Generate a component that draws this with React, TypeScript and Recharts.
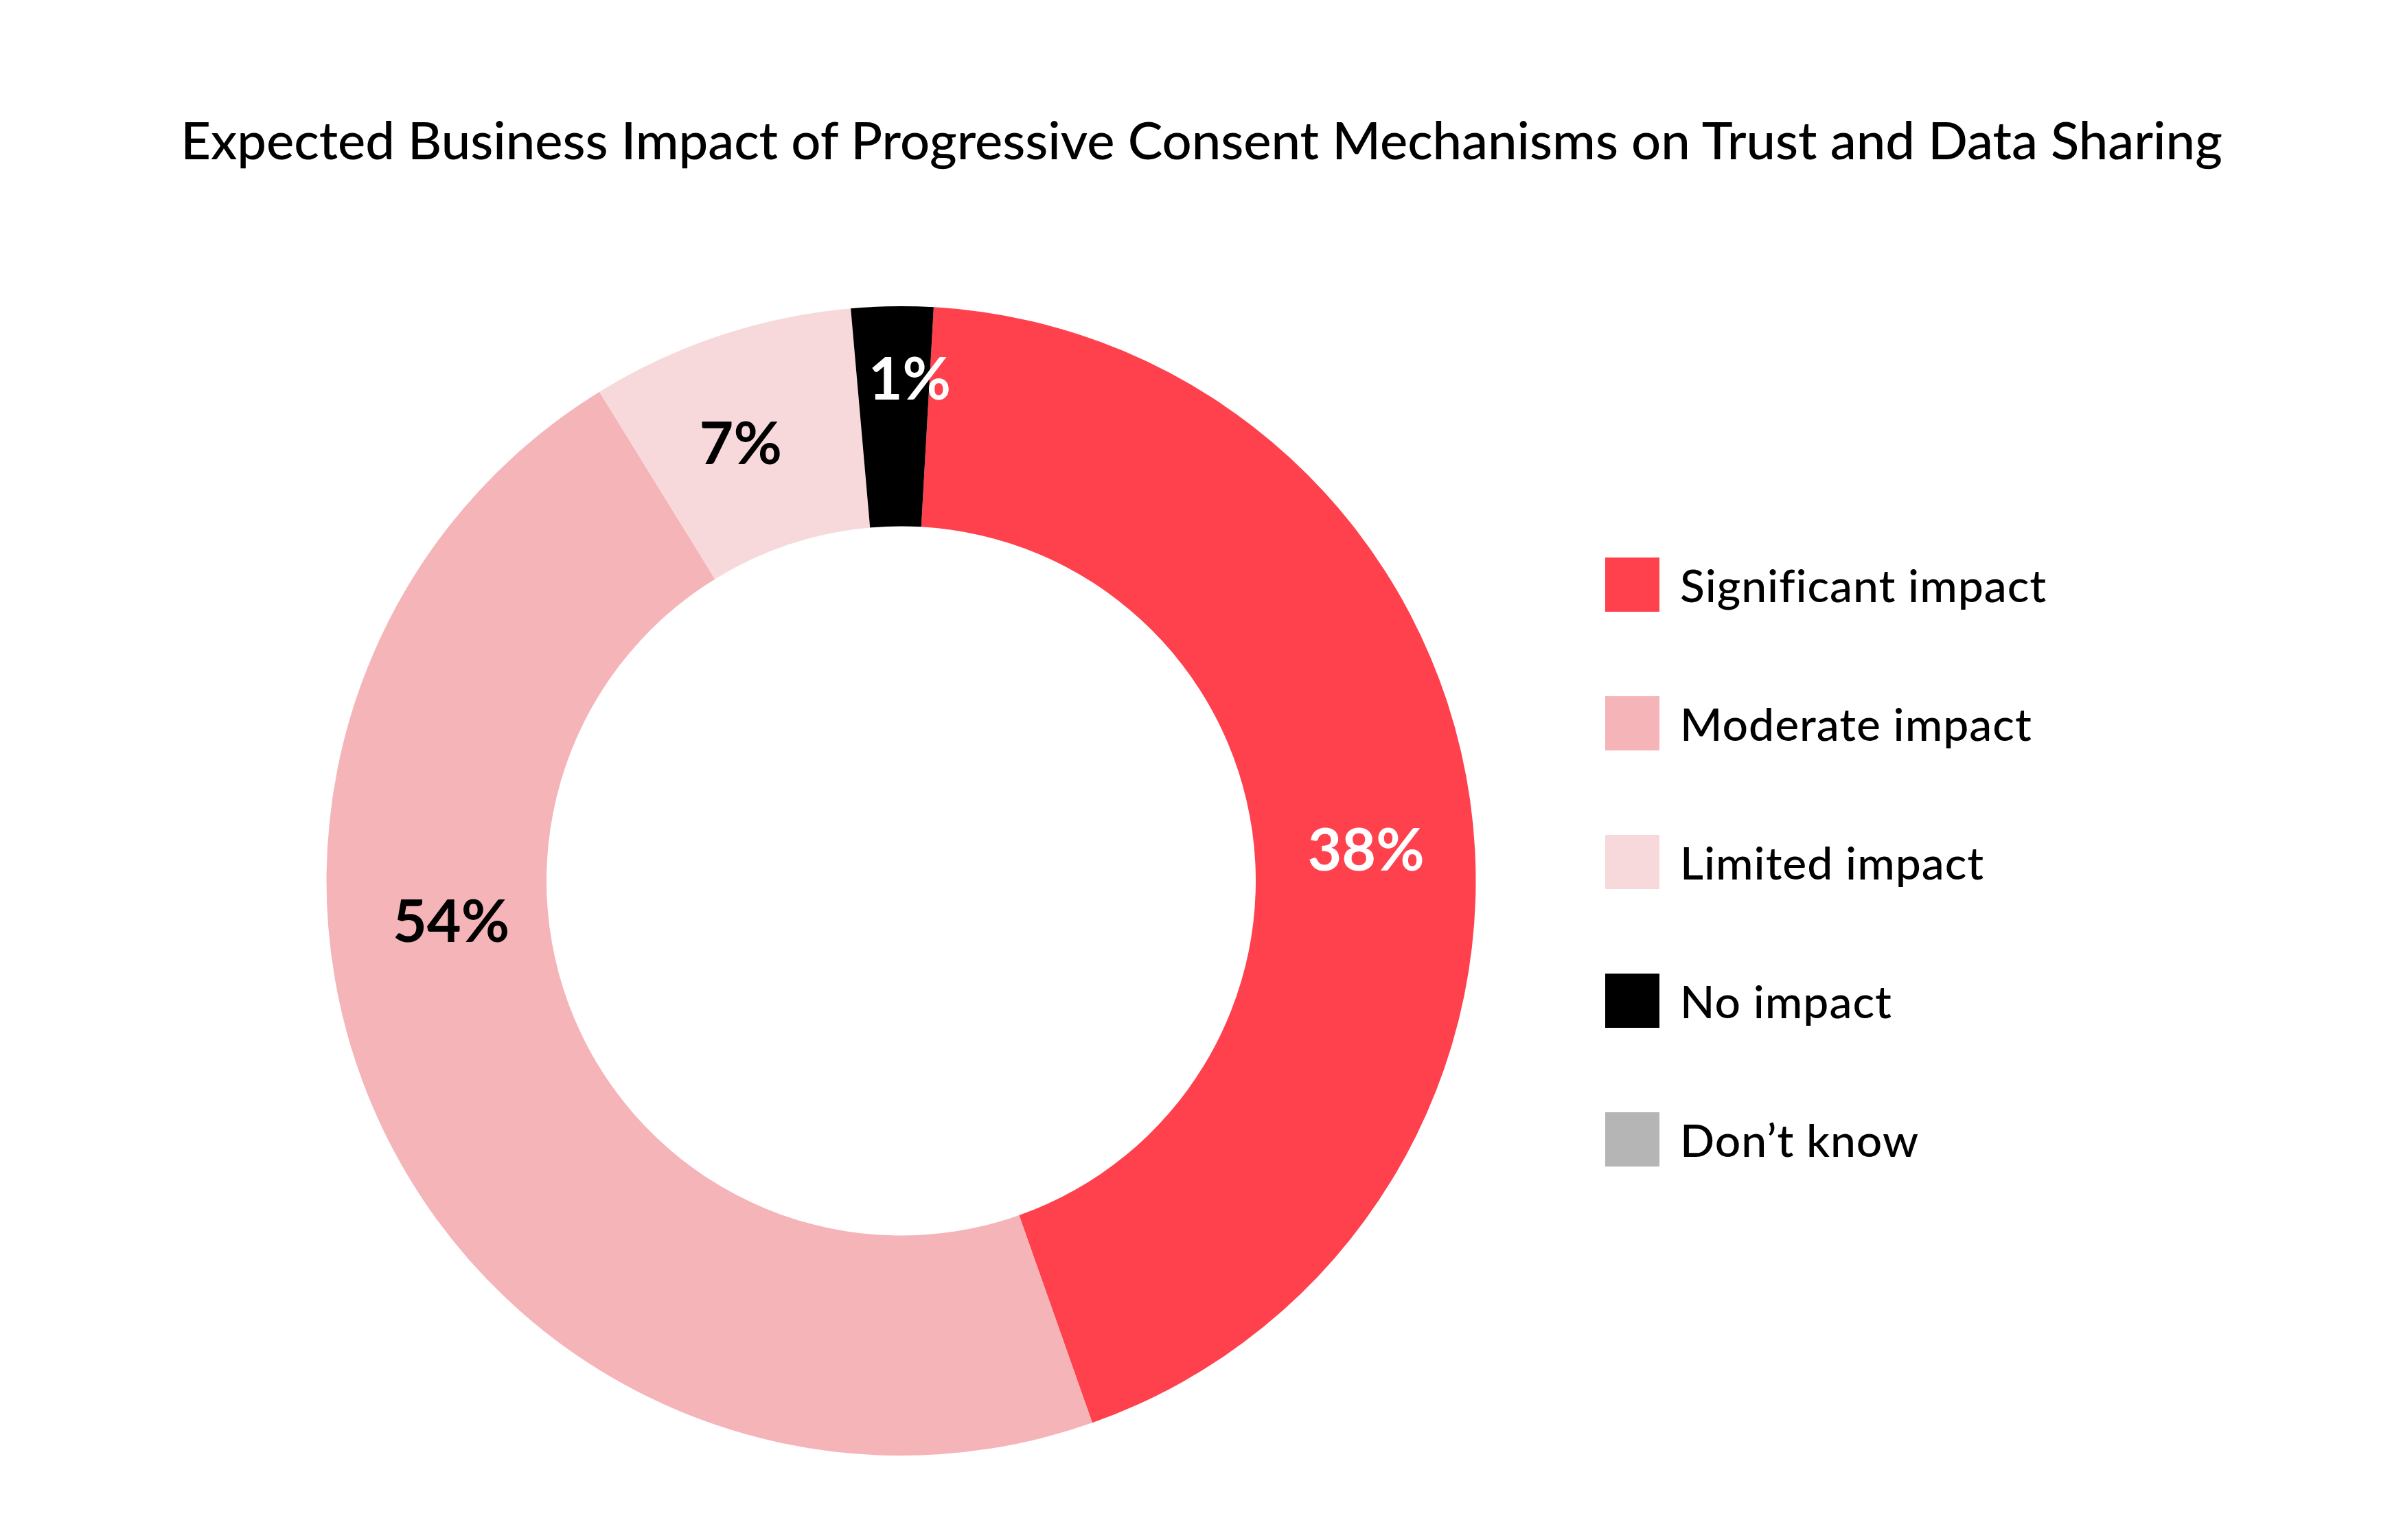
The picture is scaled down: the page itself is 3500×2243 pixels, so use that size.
import { Cell, Legend, Pie, PieChart } from 'recharts'

const categories = [
  'Significant impact',
  'Moderate impact',
  'Limited impact',
  'No impact',
  'Don’t know',
]

// share of the ring each arc takes, as drawn
const shares = [43.7, 46.6, 7.4, 2.3, 0]

// the percentages printed on the ring
const printedLabels = ['38%', '54%', '7%', '1%', '']

const colors = ['#FF404D', '#F4B4B8', '#F7D9DB', '#000000', '#B5B5B5']
const labelColors = ['#ffffff', '#000000', '#000000', '#ffffff', '#000000']

// label offsets from the arc middle: [degrees, px]
const labelNudge = [
  [-4, 2],
  [-20.7, -19],
  [1.7, 5],
  [-1.85, 58],
  [0, 0],
]

const FONT = 'Lato, "Open Sans", sans-serif'
const RAD = Math.PI / 180

const chartData = categories.map((name, i) => ({ name, value: shares[i] }))

const renderLabel = (props: any) => {
  const { cx, cy, midAngle, innerRadius, outerRadius, index } = props
  const text = printedLabels[index]
  if (!text) {
    return null
  }
  const [dAngle, dRadius] = labelNudge[index]
  const angle = midAngle + dAngle
  const r = (innerRadius + outerRadius) / 2 + dRadius
  const x = cx + r * Math.cos(-angle * RAD)
  const y = cy + r * Math.sin(-angle * RAD)

  return (
    <text
      x={x}
      y={y}
      fill={labelColors[index]}
      textAnchor="middle"
      dominantBaseline="central"
      fontFamily={FONT}
      fontSize={86}
      fontWeight={700}
    >
      {text}
    </text>
  )
}

const LegendList = () => (
  <div style={{ display: 'flex', flexDirection: 'column' }}>
    {categories.map((name, i) => (
      <div
        key={name}
        style={{
          display: 'flex',
          alignItems: 'center',
          height: 79,
          marginBottom: i < categories.length - 1 ? 123 : 0,
        }}
      >
        <span style={{ width: 79, height: 79, background: colors[i], flex: 'none' }} />
        <span
          style={{
            marginLeft: 30,
            fontFamily: FONT,
            fontSize: 66,
            fontWeight: 500,
            color: '#000',
            whiteSpace: 'nowrap',
            letterSpacing: 1,
          }}
        >
          {name}
        </span>
      </div>
    ))}
  </div>
)

export default function App() {
  return (
    <div
      style={{
        position: 'absolute',
        left: 0,
        top: 0,
        width: 3500,
        height: 2243,
        background: '#ffffff',
        overflow: 'hidden',
      }}
    >
      <div
        style={{
          position: 'absolute',
          left: 0,
          top: 157,
          width: 3500,
          textAlign: 'center',
          fontFamily: FONT,
          fontSize: 76,
          fontWeight: 500,
          lineHeight: 1.2,
          color: '#000',
          whiteSpace: 'nowrap',
          zIndex: 2,
        }}
      >
        Expected Business Impact of Progressive Consent Mechanisms on Trust and Data Sharing
      </div>

      <PieChart width={3500} height={2243} margin={{ top: 0, right: 0, bottom: 0, left: 0 }}>
        <Pie
          data={chartData}
          dataKey="value"
          nameKey="name"
          cx={1312.5}
          cy={1283}
          innerRadius={516.5}
          outerRadius={837}
          startAngle={86.75}
          endAngle={-273.25}
          stroke="none"
          label={renderLabel}
          labelLine={false}
          isAnimationActive={false}
        >
          {chartData.map((entry, i) => (
            <Cell key={entry.name} fill={colors[i]} />
          ))}
        </Pie>
        <Legend
          layout="vertical"
          align="right"
          verticalAlign="middle"
          content={() => <LegendList />}
          wrapperStyle={{ left: 2338, top: 812, right: 'auto', bottom: 'auto', width: 1000 }}
        />
      </PieChart>
    </div>
  )
}
